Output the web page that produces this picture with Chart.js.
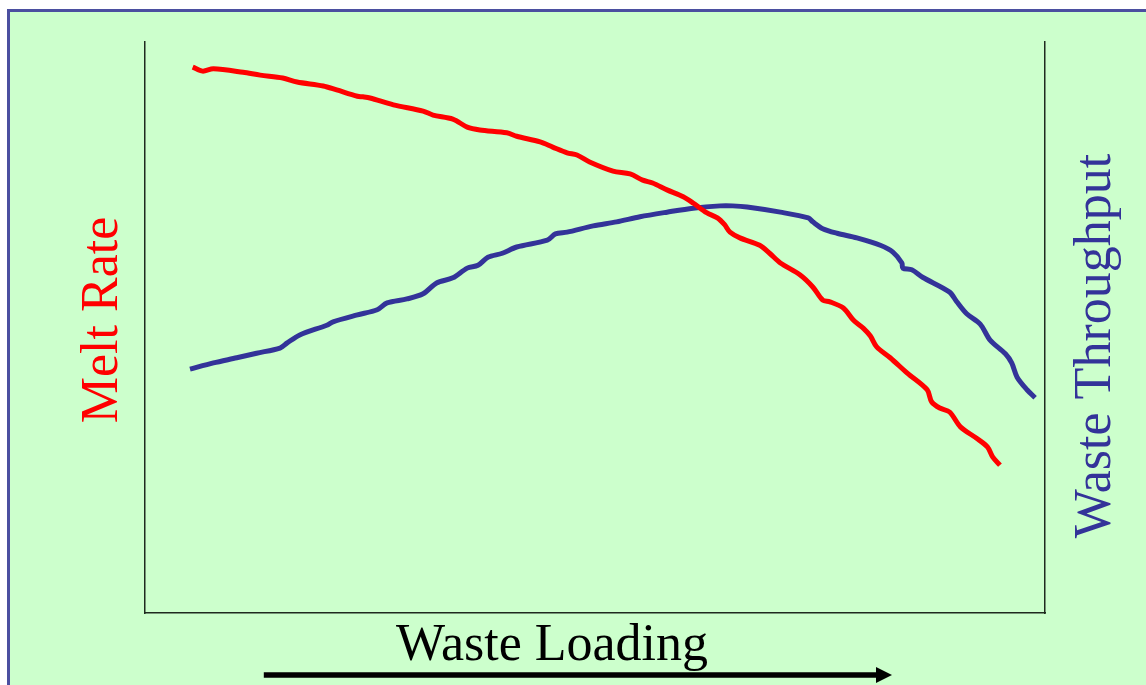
<!DOCTYPE html>
<html>
<head>
<meta charset="utf-8">
<script src="https://cdn.jsdelivr.net/npm/chart.js@4.4.1/dist/chart.umd.min.js"></script>
<style>
  html, body { margin: 0; padding: 0; background: #fff; overflow: hidden; }
  .panel {
    position: absolute; left: 7px; top: 9px; width: 1200px; height: 720px;
    background: #CCFFCC; border-top: 3px solid #4B4FA0; border-left: 3px solid #4B4FA0;
  }
  #chart { position: absolute; left: 0; top: 0; }
</style>
</head>
<body>
<div class="panel"></div>
<canvas id="chart" width="1146" height="685"></canvas>
<script>
// waste loading (x, 0-100) vs relative value (y, 0-100)
const meltX = [5.3, 6.4, 7.6, 10.9, 12.8, 15.3, 16.9, 19.8, 21.3, 23.6, 24.2, 25.0, 27.6, 30.9, 32.0, 34.2,
  35.8, 37.2, 40.2, 41.3, 43.9, 45.3, 46.9, 48.0, 49.4, 52.0, 53.9, 55.3, 56.4, 58.0, 59.8, 60.9, 62.4,
  63.6, 64.4, 65.0, 66.1, 68.3, 69.4, 70.6, 72.8, 74.2, 75.3, 76.1, 77.6, 78.7, 79.8, 80.6, 81.3, 82.8,
  84.7, 86.9, 87.4, 88.3, 89.4, 90.6, 92.4, 93.6, 94.2, 95.0];
const meltY = [95.6, 94.9, 95.3, 94.7, 94.2, 93.7, 93.0, 92.3, 91.6, 90.5, 90.4, 90.2, 89.0, 87.9, 87.2, 86.5,
  85.1, 84.6, 84.1, 83.5, 82.5, 81.6, 80.6, 80.2, 79.0, 77.4, 76.9, 75.8, 75.3, 74.1, 72.9, 71.8, 70.1,
  69.2, 68.0, 66.7, 65.7, 64.4, 63.0, 61.3, 59.2, 57.1, 54.8, 54.5, 53.4, 51.3, 49.9, 48.5, 46.6, 44.7,
  42.0, 39.1, 37.0, 35.9, 35.2, 32.6, 30.6, 29.1, 27.3, 25.9];

const throughputX = [5.0, 7.6, 10.2, 12.4, 15.0, 15.8, 17.2, 20.2, 20.9, 23.6, 25.8, 26.9, 29.1, 30.9, 32.4,
  34.2, 35.8, 37.0, 38.1, 39.7, 41.3, 44.7, 45.6, 46.9, 49.8, 52.4, 55.0, 58.0, 60.9, 63.9, 65.3, 66.9,
  70.6, 73.7, 74.2, 75.3, 76.9, 79.1, 81.7, 83.1, 84.1, 84.2, 85.2, 86.4, 89.4, 90.2, 91.3, 92.8, 93.9,
  95.6, 96.3, 96.9, 98.0, 98.9];
const throughputY = [42.7, 43.8, 44.7, 45.5, 46.4, 47.3, 48.7, 50.4, 51.0, 52.2, 53.1, 54.3, 55.0, 55.9, 57.8,
  58.7, 60.4, 60.9, 62.3, 63.0, 64.1, 65.3, 66.4, 66.7, 67.8, 68.5, 69.4, 70.2, 70.9, 71.3, 71.3, 71.1,
  70.2, 69.2, 68.5, 67.3, 66.5, 65.7, 64.4, 63.2, 61.3, 60.4, 60.1, 58.8, 56.2, 54.5, 52.4, 50.6, 47.8,
  45.4, 43.8, 41.3, 39.1, 37.7];

const yTitle = 'Melt Rate';
const y2Title = 'Waste Throughput';
const xTitle = 'Waste Loading';
// arrow under the x title, in x-axis units
const arrowFrom = 13.2;
const arrowTo = 83.0;

const serif = '52px "Liberation Serif", "Times New Roman", serif';

const labelsPlugin = {
  id: 'labels',
  afterDraw(chart) {
    const {ctx, scales} = chart;
    ctx.save();
    ctx.font = serif;
    ctx.textAlign = 'center';
    ctx.textBaseline = 'middle';

    ctx.save();
    ctx.translate(103, 320);
    ctx.rotate(-Math.PI / 2);
    ctx.fillStyle = '#FF0000';
    ctx.fillText(yTitle, 0, 0);
    ctx.restore();

    ctx.save();
    ctx.translate(1096, 346);
    ctx.rotate(-Math.PI / 2);
    ctx.fillStyle = '#333399';
    ctx.fillText(y2Title, 0, 0);
    ctx.restore();

    ctx.fillStyle = '#000';
    ctx.textBaseline = 'alphabetic';
    ctx.fillText(xTitle, 552, 660);

    // arrow
    const x0 = scales.x.getPixelForValue(arrowFrom);
    const x1 = scales.x.getPixelForValue(arrowTo);
    const y = 675;
    ctx.strokeStyle = '#000';
    ctx.lineWidth = 5.5;
    ctx.beginPath();
    ctx.moveTo(x0, y);
    ctx.lineTo(x1 - 14, y);
    ctx.stroke();
    ctx.beginPath();
    ctx.moveTo(x1, y);
    ctx.lineTo(x1 - 16, y - 8);
    ctx.lineTo(x1 - 16, y + 8);
    ctx.closePath();
    ctx.fill();
    ctx.restore();
  }
};

const hiddenAxis = (position) => ({
  type: 'linear',
  position,
  min: 0,
  max: 100,
  ticks: {display: false},
  grid: {display: false, drawTicks: false},
  border: {display: true, color: '#1f2a1f', width: 1.5}
});

new Chart(document.getElementById('chart'), {
  type: 'line',
  data: {
    datasets: [
      {
        label: yTitle,
        data: meltX.map((x, i) => ({x, y: meltY[i]})),
        borderColor: '#FF0000',
        borderWidth: 5,
        pointRadius: 0,
        tension: 0.3,
        yAxisID: 'y'
      },
      {
        label: y2Title,
        data: throughputX.map((x, i) => ({x, y: throughputY[i]})),
        borderColor: '#333399',
        borderWidth: 5,
        pointRadius: 0,
        tension: 0.3,
        yAxisID: 'y2'
      }
    ]
  },
  options: {
    responsive: false,
    animation: false,
    devicePixelRatio: 1,
    layout: {padding: {left: 145, right: 101, top: 42, bottom: 72}},
    plugins: {legend: {display: false}, tooltip: {enabled: false}},
    scales: {
      x: hiddenAxis('bottom'),
      y: hiddenAxis('left'),
      y2: hiddenAxis('right')
    }
  },
  plugins: [labelsPlugin]
});
</script>
</body>
</html>
